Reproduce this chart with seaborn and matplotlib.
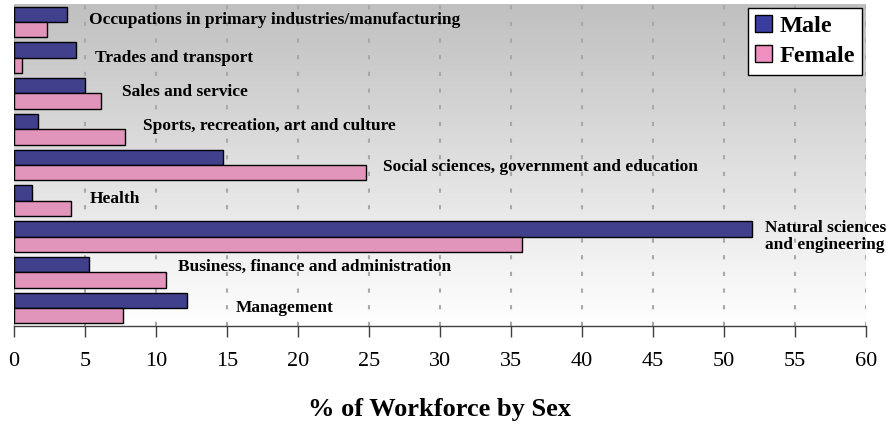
import numpy as np
import pandas as pd
import seaborn as sns
import matplotlib.pyplot as plt
from matplotlib.colors import LinearSegmentedColormap
from matplotlib.patches import Patch

occupations = [
    "Occupations in primary industries/manufacturing",
    "Trades and transport",
    "Sales and service",
    "Sports, recreation, art and culture",
    "Social sciences, government and education",
    "Health",
    "Natural sciences\nand engineering",
    "Business, finance and administration",
    "Management",
]
male = [3.7, 4.4, 5.0, 1.7, 14.7, 1.3, 52.0, 5.3, 12.2]
female = [2.3, 0.55, 6.1, 7.8, 24.8, 4.0, 35.8, 10.7, 7.7]
# where each occupation name sits (x in % units, y shift in category units)
label_x = [5.3, 5.7, 7.6, 9.1, 26.0, 5.35, 52.9, 11.55, 15.6]
label_dy = [-0.05, 0.0, -0.05, -0.08, 0.05, -0.05, 0.0, -0.16, 0.0]

df = pd.DataFrame({
    "Occupation": occupations * 2,
    "Percent": male + female,
    "Sex": ["Male"] * len(male) + ["Female"] * len(female),
})

sns.set_theme(style="white")
plt.rcParams["font.family"] = ["Liberation Serif", "DejaVu Serif"]
plt.rcParams["text.color"] = "black"
plt.rcParams["axes.labelcolor"] = "black"
plt.rcParams["xtick.color"] = "black"

fig = plt.figure(figsize=(8.88, 4.28), dpi=100)
ax = fig.add_axes([14 / 888, 1 - 326 / 428, 852 / 888, 322 / 428])

pal = {"Male": "#333399", "Female": "#ee88bb"}
sns.barplot(data=df, y="Occupation", x="Percent", hue="Sex", orient="h",
            palette=pal, width=0.86, edgecolor="black", linewidth=1,
            legend=False, ax=ax)

# background: grey at top fading to white
bg = LinearSegmentedColormap.from_list("bg", ["#ffffff", "#c0c0c0"])
ax.imshow(np.linspace(0, 1, 256)[:, None], extent=(0, 1, 0, 1),
          transform=ax.transAxes, cmap=bg, aspect="auto", zorder=-5,
          origin="lower")

# shaded bars
grads = {
    "#333399": LinearSegmentedColormap.from_list("m", ["#1c1c66", "#4448ac", "#3a3ea0", "#22236e"]),
    "#ee88bb": LinearSegmentedColormap.from_list("f", ["#a85a86", "#f49cc8", "#f090c0", "#b86894"]),
}
for p in list(ax.patches):
    w = p.get_width()
    if w <= 0:
        continue
    fc = "#%02x%02x%02x" % tuple(int(round(c * 255)) for c in p.get_facecolor()[:3])
    cm = grads.get(fc)
    if cm is None:
        continue
    x0, y0, h = p.get_x(), p.get_y(), p.get_height()
    im = ax.imshow(np.linspace(0, 1, 64)[:, None], extent=(x0, x0 + w, y0 + h, y0),
                   cmap=cm, aspect="auto", zorder=1, origin="upper")
    im.set_clip_path(p)
    p.set_facecolor("none")
    p.set_zorder(2)

for i, name in enumerate(occupations):
    ax.text(label_x[i], i + label_dy[i], name, fontsize=12.5, fontweight="bold",
            va="center", ha="left", linespacing=1.05, zorder=3, color="black")

ax.set_xlim(0, 60)
ax.set_ylim(8.5, -0.5)
ax.set_xticks(range(0, 61, 5))
ax.set_yticks([])
ax.set_ylabel("")
ax.set_xlabel("% of Workforce by Sex", fontsize=19, fontweight="bold", labelpad=19)
ax.tick_params(axis="x", direction="out", length=8, width=1, color="#404040",
               labelsize=16, labelcolor="black", pad=11, bottom=True)
ax.xaxis.grid(True, linestyle=(0, (2, 6)), color="#a8a8a8", linewidth=1.5, zorder=0)
ax.set_axisbelow(True)
for s in ["top", "right", "left"]:
    ax.spines[s].set_visible(False)
ax.spines["bottom"].set_color("#404040")
ax.spines["bottom"].set_linewidth(1)

handles = [Patch(facecolor="#3a3ea0", edgecolor="black", label="Male"),
           Patch(facecolor="#f090c0", edgecolor="black", label="Female")]
leg = ax.legend(handles=handles, loc="upper right",
                prop={"weight": "bold", "size": 17.5}, frameon=True, fancybox=False,
                edgecolor="black", framealpha=1, handlelength=0.7, handleheight=0.7,
                handletextpad=0.3, borderaxespad=0.15, borderpad=0.3, labelspacing=0.35)
leg.get_frame().set_linewidth(1)
leg.set_zorder(5)
for t in leg.get_texts():
    t.set_color("black")

fig.savefig("out.png", dpi=100)
